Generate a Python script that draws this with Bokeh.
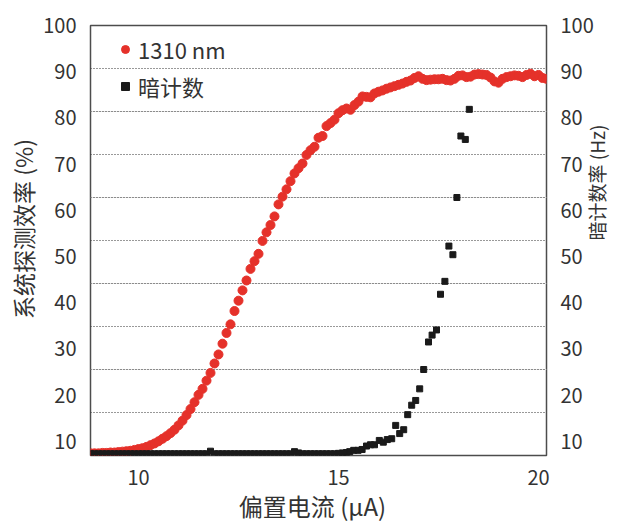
from bokeh.plotting import figure
from bokeh.models import (Range1d, LinearAxis, FixedTicker, Legend, LegendItem, Grid)
from bokeh.embed import file_html
from bokeh.resources import INLINE

# ---------------- data ----------------
bias_1310 = [8.8, 8.9, 9.0, 9.1, 9.2, 9.3, 9.4, 9.5, 9.6, 9.7, 9.8, 9.9,
             10.0, 10.1, 10.2, 10.3, 10.4, 10.5, 10.6, 10.7, 10.8, 10.9,
             11.0, 11.1, 11.2, 11.3, 11.4, 11.5, 11.6, 11.7, 11.8, 11.9,
             12.0, 12.1, 12.2, 12.3, 12.4, 12.5, 12.6, 12.7, 12.8, 12.9,
             13.0, 13.1, 13.2, 13.3, 13.4, 13.5, 13.6, 13.7, 13.8, 13.9,
             14.0, 14.1, 14.2, 14.3, 14.4, 14.5, 14.6, 14.7, 14.8, 14.9,
             15.0, 15.1, 15.2, 15.3, 15.4, 15.5, 15.6, 15.7, 15.8, 15.9,
             16.0, 16.1, 16.2, 16.3, 16.4, 16.5, 16.6, 16.7, 16.8, 16.9,
             17.0, 17.1, 17.2, 17.3, 17.4, 17.5, 17.6, 17.7, 17.8, 17.9,
             18.0, 18.1, 18.2, 18.3, 18.4, 18.5, 18.6, 18.7, 18.8, 18.9,
             19.0, 19.1, 19.2, 19.3, 19.4, 19.5, 19.6, 19.7, 19.8, 19.9,
             20.0, 20.1, 20.2]
eff_1310 = [0.5, 0.5, 0.5, 0.6, 0.6, 0.7, 0.7, 0.8, 0.9, 1.0, 1.1, 1.3,
            1.5, 1.7, 2.0, 2.4, 2.8, 3.3, 3.9, 4.5, 5.2, 6.0,
            7.0, 8.1, 9.4, 10.8, 12.4, 14.1, 15.5, 17.4, 19.2, 21.4,
            23.5, 26.0, 28.5, 30.5, 33.6, 36.0, 38.4, 40.7, 43.4, 45.2,
            46.9, 49.9, 51.9, 53.6, 55.6, 58.4, 60.2, 61.9, 63.8, 65.6,
            66.8, 67.9, 69.9, 71.0, 71.8, 73.9, 74.3, 76.6, 77.3, 78.1,
            79.6, 80.3, 80.7, 80.4, 81.5, 82.3, 83.5, 83.4, 83.3, 84.2,
            84.6, 84.9, 85.3, 85.6, 85.9, 86.2, 86.5, 86.9, 87.2, 87.8,
            88.2, 87.6, 87.3, 87.4, 87.5, 87.5, 87.6, 87.3, 87.2, 87.6,
            88.3, 88.4, 88.0, 88.1, 88.6, 88.7, 88.6, 88.5, 87.9, 87.0,
            86.7, 87.6, 88.0, 88.2, 88.4, 88.3, 88.0, 88.5, 88.8, 88.2,
            88.5, 87.8, 87.6]

bias_dark = [8.8, 8.9, 9.0, 9.1, 9.2, 9.3, 9.4, 9.5, 9.6, 9.7, 9.8, 9.9,
             10.0, 10.1, 10.2, 10.3, 10.4, 10.5, 10.6, 10.7, 10.8, 10.9,
             11.0, 11.1, 11.2, 11.3, 11.4, 11.5, 11.6, 11.7, 11.8, 11.9,
             12.0, 12.1, 12.2, 12.3, 12.4, 12.5, 12.6, 12.7, 12.8, 12.9,
             13.0, 13.1, 13.2, 13.3, 13.4, 13.5, 13.6, 13.7, 13.8, 13.9,
             14.0, 14.1, 14.2, 14.3, 14.4, 14.5, 14.6, 14.7, 14.8, 14.9,
             15.0, 15.1, 15.2, 15.28, 15.38, 15.49, 15.59, 15.70, 15.80,
             15.90, 16.02, 16.12, 16.22, 16.33, 16.43, 16.53, 16.63, 16.73,
             16.83, 16.93, 17.03, 17.13, 17.25, 17.34, 17.45, 17.55, 17.66,
             17.76, 17.86, 17.96, 18.06, 18.17, 18.27]
dark_counts = [0.4, 0.4, 0.4, 0.4, 0.4, 0.4, 0.4, 0.4, 0.4, 0.4, 0.4, 0.4,
               0.4, 0.4, 0.4, 0.4, 0.4, 0.4, 0.4, 0.4, 0.4, 0.4,
               0.4, 0.4, 0.4, 0.4, 0.4, 0.4, 0.4, 0.4, 1.0, 0.4,
               0.4, 0.4, 0.4, 0.4, 0.4, 0.4, 0.4, 0.4, 0.4, 0.4,
               0.4, 0.4, 0.4, 0.4, 0.4, 0.4, 0.4, 0.4, 0.4, 0.9,
               0.6, 0.4, 0.4, 0.4, 0.4, 0.4, 0.4, 0.4, 0.4, 0.4,
               0.5, 0.6, 0.7, 0.9, 1.2, 1.2, 1.4, 2.2, 2.5,
               2.5, 3.5, 3.1, 3.7, 3.9, 7.0, 5.1, 6.0, 9.5,
               11.7, 12.8, 15.5, 20.0, 26.4, 28.0, 29.2, 37.5, 40.5,
               48.7, 46.7, 60.0, 74.3, 73.5, 80.5]

x_ticks = [10, 15, 20]
y_tick_labels = [10, 20, 30, 40, 50, 60, 70, 80, 90, 100]
grid_levels = [10, 20, 30, 40, 50, 60, 70, 80, 90]

series_names = ["1310 nm", "暗计数"]
left_title = "系统探测效率 (%)"
right_title = "暗计数率 (Hz)"
bottom_title = "偏置电流 (μA)"

# ---------------- styling ----------------
FONT = "Noto Sans CJK SC"
TXT = "#333333"
RED = "#e5312a"
BLK = "#1a1a1a"

p = figure(width=626, height=525, output_backend="svg", toolbar_location=None,
           x_range=Range1d(8.8, 20.2), y_range=Range1d(0, 100),
           y_axis_location=None,
           min_border_left=90, min_border_right=80,
           min_border_top=25, min_border_bottom=69)
p.extra_y_ranges = {"lab": Range1d(6.91, 100)}
p.background_fill_color = "white"
p.border_fill_color = "white"
p.outline_line_color = "#4d4d4d"
p.outline_line_width = 1.5
p.xgrid.visible = False

# x axis
xa = p.xaxis[0]
xa.ticker = FixedTicker(ticks=x_ticks)
xa.axis_line_color = None
xa.major_tick_line_color = None
xa.minor_tick_line_color = None
xa.major_label_text_font = FONT
xa.major_label_text_font_size = "20px"
xa.major_label_text_color = TXT
xa.major_label_standoff = 8
xa.axis_label = bottom_title + "\u2002"
xa.axis_label_text_font = FONT
xa.axis_label_text_font_size = "24px"
xa.axis_label_text_font_style = "normal"
xa.axis_label_text_color = TXT
xa.axis_label_standoff = 0


def tick_axis(side, title=None):
    ax = LinearAxis(y_range_name="lab", ticker=FixedTicker(ticks=y_tick_labels))
    ax.axis_line_color = None
    ax.major_tick_line_color = None
    ax.minor_tick_line_color = None
    ax.major_label_text_font = FONT
    ax.major_label_text_font_size = "20px"
    ax.major_label_text_color = TXT
    ax.major_label_standoff = 8
    if title:
        ax.axis_label = title
        ax.axis_label_text_font = FONT
        ax.axis_label_text_font_size = "23px"
        ax.axis_label_text_font_style = "normal"
        ax.axis_label_text_color = TXT
        ax.axis_label_standoff = 0
    p.add_layout(ax, side)
    return ax


tick_axis("left", "\u3000" + left_title)
tick_axis("right")

# right-hand title (reads bottom-to-top as in the original)
rt = LinearAxis(y_range_name="lab", ticker=FixedTicker(ticks=[]),
                bounds=(20, 81.94))
rt.axis_line_color = None
rt.major_tick_line_color = None
rt.minor_tick_line_color = None
rt.major_tick_out = 0
rt.major_label_standoff = 0
rt.axis_label = right_title
rt.axis_label_text_font = FONT
rt.axis_label_text_font_size = "19px"
rt.axis_label_text_font_style = "normal"
rt.axis_label_text_color = TXT
rt.axis_label_standoff = 0
try:
    rt.axis_label_orientation = 1.5707963
except Exception:
    pass
p.add_layout(rt, "right")

grid = Grid(dimension=1, ticker=FixedTicker(ticks=grid_levels),
            grid_line_color="#333333", grid_line_dash="1 2", grid_line_width=1)
p.add_layout(grid, "center")

r1 = p.scatter(bias_1310, eff_1310, marker="circle", size=9,
               fill_color=RED, line_color=RED)
r2 = p.scatter(bias_dark, dark_counts, marker="square", size=6,
               fill_color=BLK, line_color=BLK)

legend = Legend(items=[LegendItem(label=series_names[0], renderers=[r1]),
                       LegendItem(label=series_names[1], renderers=[r2])],
                location=(25, 353), margin=0, padding=0,
                glyph_width=20, glyph_height=24, label_height=24,
                label_standoff=3, spacing=5,
                label_text_font=FONT, label_text_font_size="22px",
                label_text_color=TXT,
                border_line_alpha=0, background_fill_alpha=0)
p.add_layout(legend)

open("out.html", "w").write(file_html(p, INLINE))
